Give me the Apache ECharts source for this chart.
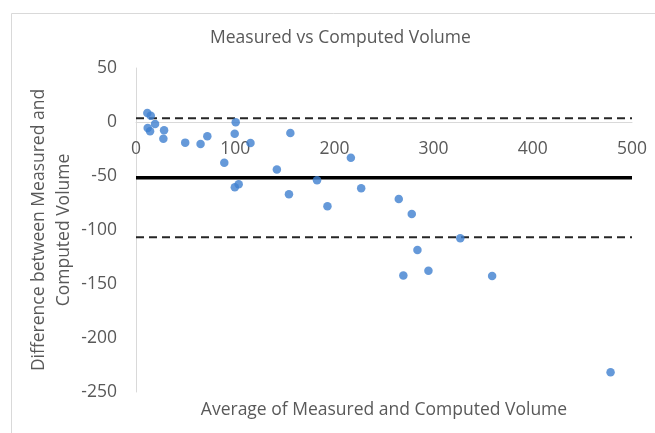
<!DOCTYPE html>
<html>
<head>
<meta charset="utf-8">
<script src="https://cdn.jsdelivr.net/npm/echarts@6/dist/echarts.min.js"></script>
<style>html,body{margin:0;padding:0;background:#fff}#c{width:655px;height:433px}</style>
</head>
<body>
<div id="c"></div>
<script>
var avgVolume = [11.4, 14.9, 19.2, 11.8, 14.2, 28.3, 27.6, 49.6, 65.1, 71.9, 100.5, 99.5, 115.4, 89, 155.6, 142, 99.6, 103.5, 154.2, 182.5, 193, 216.6, 227, 264.9, 278, 326.9, 283.7, 269.5, 294.8, 359, 478.4];
var diffVolume = [8.3, 5.8, -1.8, -5.5, -8.6, -7.7, -15.4, -19.1, -20.3, -13.2, -0.3, -10.8, -19.4, -37.8, -10.2, -43.9, -60.5, -57.7, -66.9, -54, -78, -33.2, -61.4, -71.3, -85.1, -107.7, -118.5, -142.2, -137.8, -142.7, -231.8];
var meanDiff = -51.6;
var upperLimit = 3.4;
var lowerLimit = -106.8;
var xRange = [0, 500];

var font = 'Open Sans';
var textColor = '#595959';
var pts = avgVolume.map(function (x, i) { return [x, diffVolume[i]]; });
function hline(v) { return [[xRange[0], v], [xRange[1], v]]; }

var chart = echarts.init(document.getElementById('c'), null, { renderer: 'canvas' });
chart.setOption({
  animation: false,
  backgroundColor: '#fff',
  graphic: [{
    type: 'rect', left: 9, top: 11, shape: { width: 700, height: 500 },
    style: { fill: 'none', stroke: '#d9d9d9', lineWidth: 1 }, silent: true
  }],
  title: {
    text: 'Measured vs Computed Volume', left: 205, top: 24,
    textStyle: { fontFamily: font, fontSize: 17.5, fontWeight: 'normal', color: textColor }
  },
  grid: { left: 136, right: 23, top: 68, bottom: 41, outerBoundsMode: 'none', containLabel: false },
  xAxis: {
    type: 'value', min: 0, max: 500, interval: 100,
    position: 'bottom', offset: -270,
    name: 'Average of Measured and Computed Volume', nameLocation: 'middle', nameGap: 279,
    nameMoveOverlap: false,
    nameTextStyle: { fontFamily: font, fontSize: 17.5, color: textColor },
    axisLine: { onZero: false, lineStyle: { color: '#d9d9d9', width: 1 } },
    axisTick: { show: false },
    splitLine: { show: false },
    axisLabel: { fontFamily: font, fontSize: 17.5, color: textColor, margin: 18 }
  },
  yAxis: {
    type: 'value', min: -250, max: 50, interval: 50,
    name: 'Difference between Measured and\nComputed Volume', nameLocation: 'middle', nameGap: 59,
    nameMoveOverlap: false,
    nameTextStyle: { fontFamily: font, fontSize: 17.5, color: textColor, lineHeight: 25 },
    axisLine: { show: true, lineStyle: { color: '#d9d9d9', width: 1 } },
    axisTick: { show: false },
    splitLine: { show: false },
    axisLabel: { fontFamily: font, fontSize: 17.5, color: textColor, margin: 19 }
  },
  series: [
    { type: 'line', data: hline(upperLimit), symbol: 'none', lineStyle: { color: '#262626', width: 2, type: [8, 5] }, z: 2 },
    { type: 'line', data: hline(meanDiff), symbol: 'none', lineStyle: { color: '#000', width: 3.5 }, z: 2 },
    { type: 'line', data: hline(lowerLimit), symbol: 'none', lineStyle: { color: '#262626', width: 2, type: [8, 5] }, z: 2 },
    { type: 'scatter', data: pts, symbol: 'circle', symbolSize: 8.5, itemStyle: { color: '#3f80d0' }, z: 3 }
  ]
});
</script>
</body>
</html>
